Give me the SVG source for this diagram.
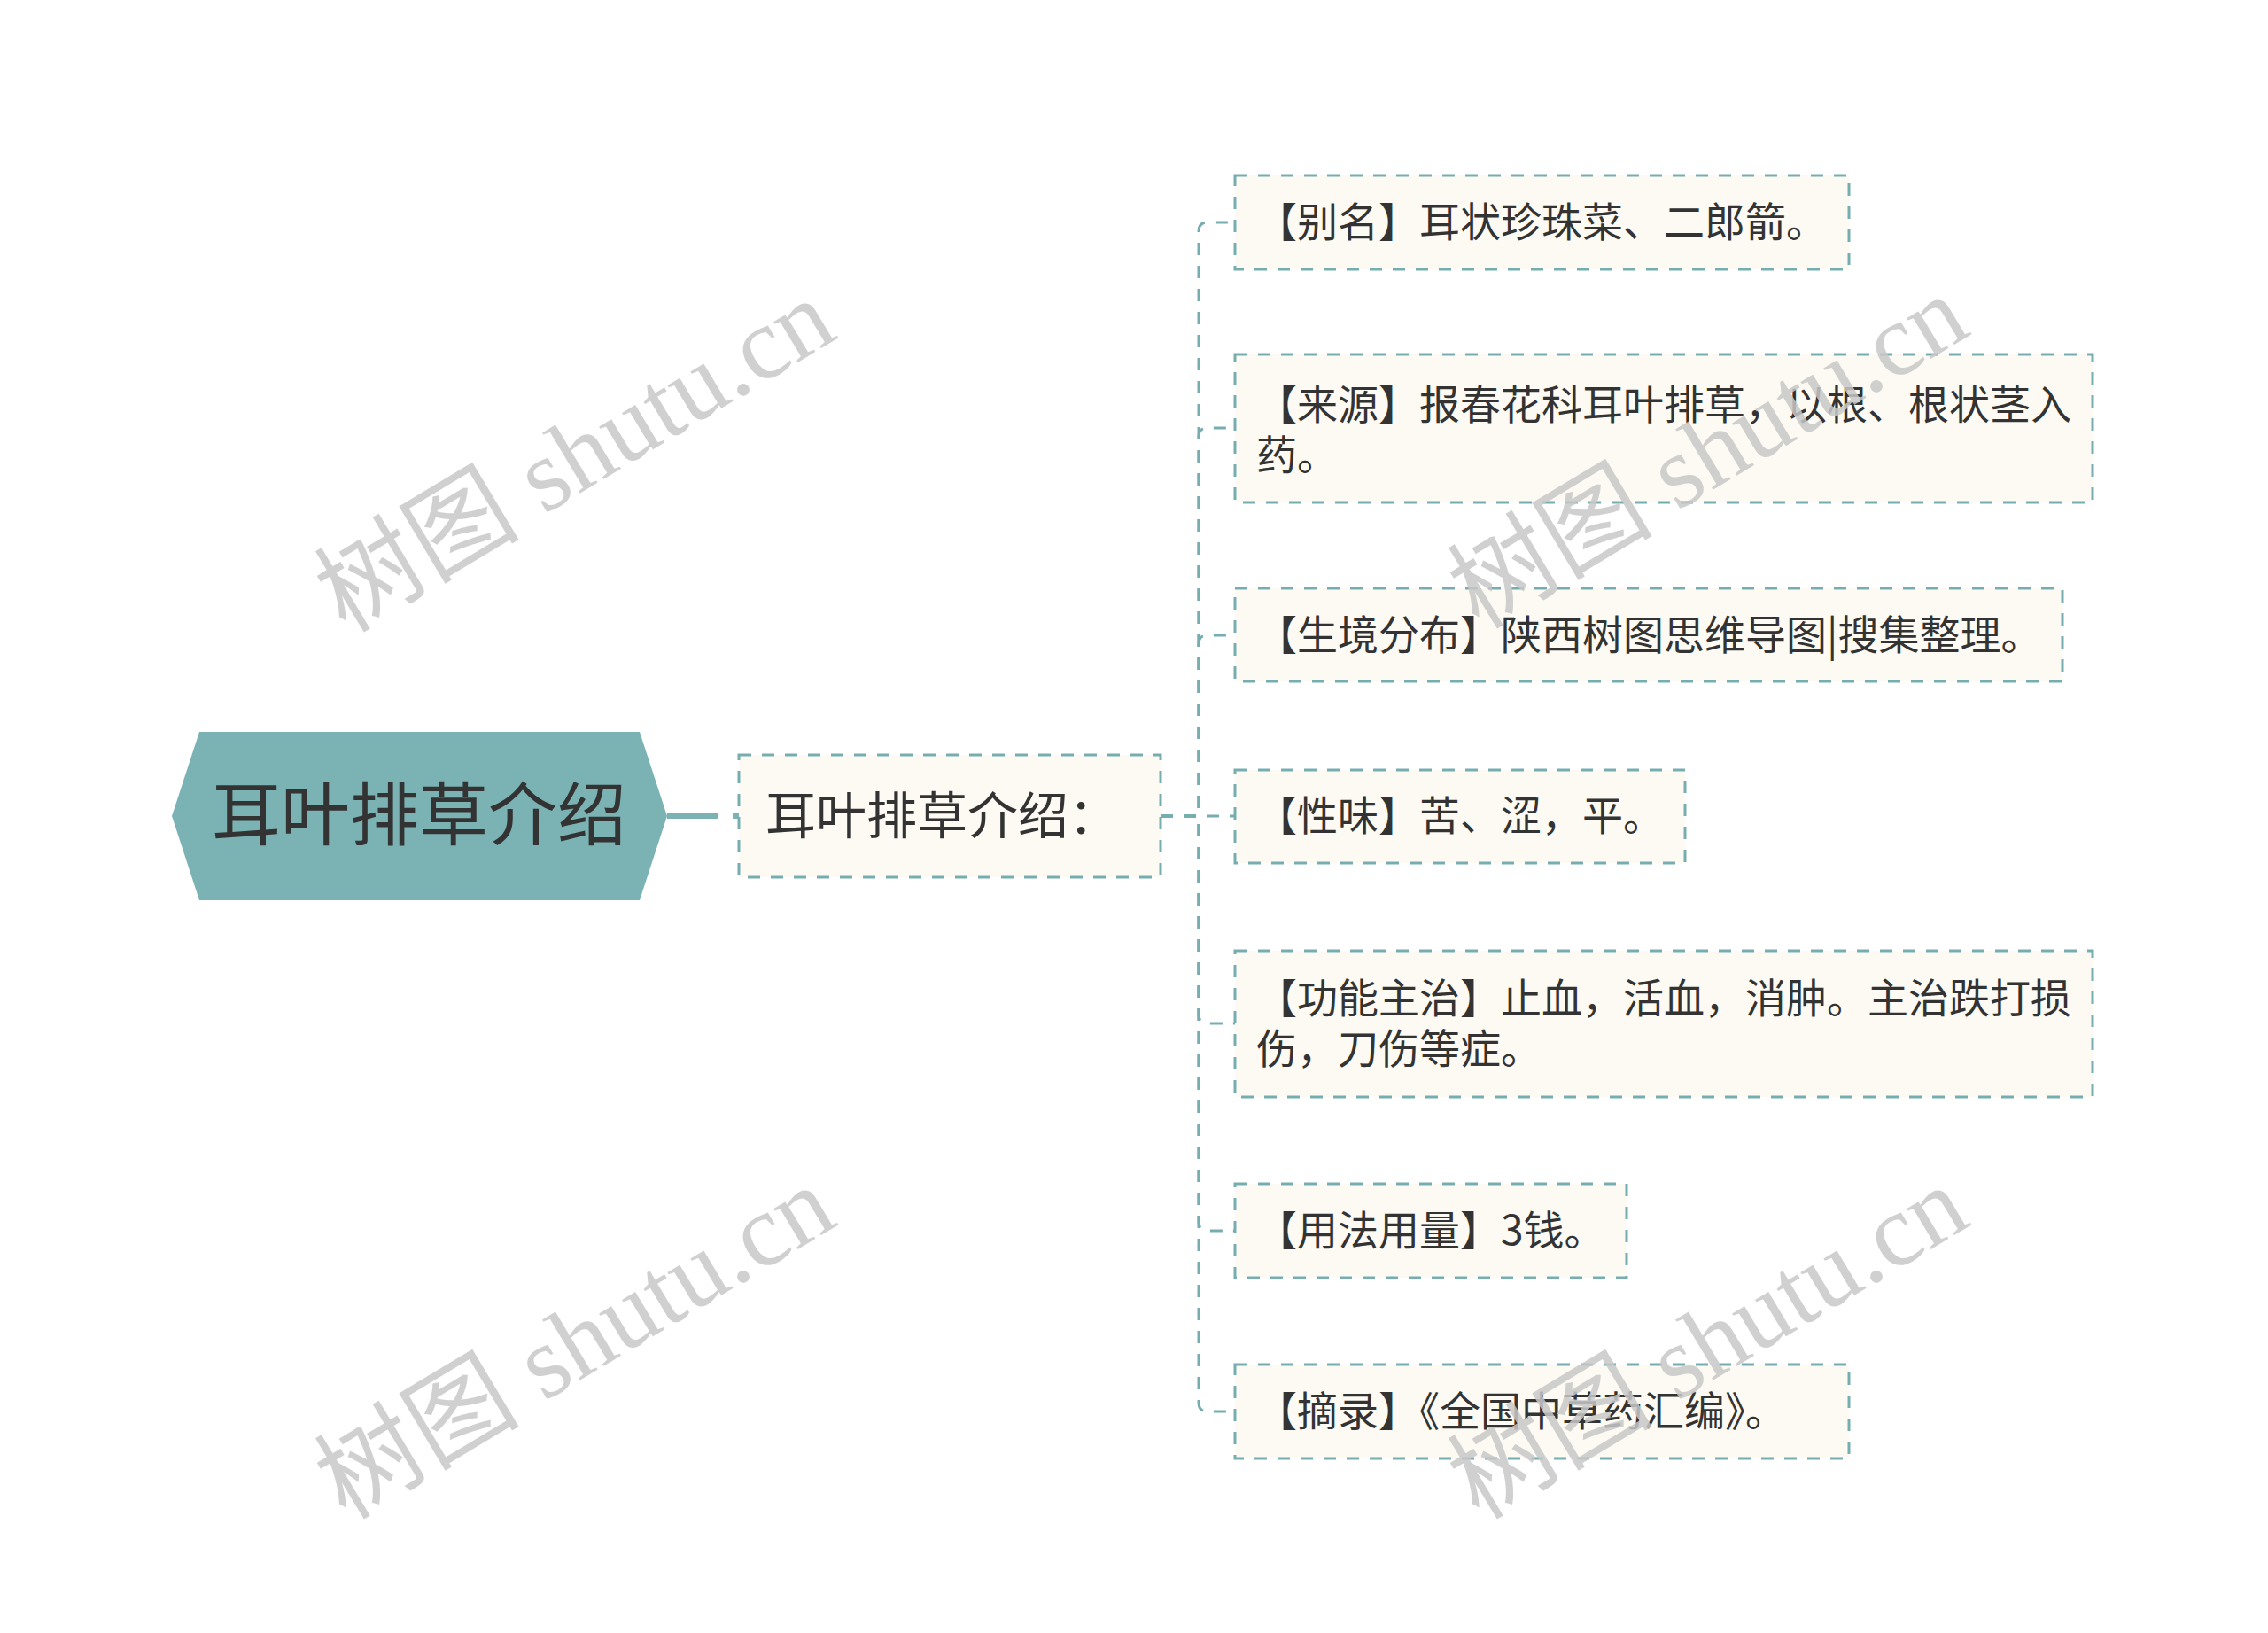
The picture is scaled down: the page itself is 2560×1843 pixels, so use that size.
<svg xmlns="http://www.w3.org/2000/svg" width="2560" height="1843" viewBox="0 0 2560 1843">
<style>
.box{fill:#fcfaf2;stroke:#76adb0;stroke-width:3;stroke-dasharray:14 12;}
.t{font-family:"Noto Sans CJK SC","Noto Sans",sans-serif;fill:#333333;}
.c{font-size:46px;}
.conn{fill:none;stroke:#76adb0;stroke-width:3;stroke-dasharray:14 12;}
.wm{font-family:"Liberation Serif","Noto Sans CJK SC",serif;font-size:116px;fill:#c8c8c8;opacity:0.85;}
</style>
<rect width="2560" height="1843" fill="#ffffff"/>
<g id="connectors">
<line x1="753" y1="921" x2="834" y2="921" stroke="#7bb3b5" stroke-width="6" stroke-dasharray="57 17"/>
<path class="conn" d="M1310,921 H1353 V261 Q1353,251 1363,251 H1394"/>
<path class="conn" d="M1310,921 H1353 V493 Q1353,483 1363,483 H1394"/>
<path class="conn" d="M1310,921 H1353 V727 Q1353,717 1363,717 H1394"/>
<path class="conn" d="M1310,921 H1394"/>
<path class="conn" d="M1310,921 H1353 V1145 Q1353,1155 1363,1155 H1394"/>
<path class="conn" d="M1310,921 H1353 V1379 Q1353,1389 1363,1389 H1394"/>
<path class="conn" d="M1310,921 H1353 V1583 Q1353,1593 1363,1593 H1394"/>
</g>
<g id="root">
<polygon points="194,921 225,826 722,826 753,921 722,1016 225,1016" fill="#7bb3b5"/>
<text class="t" x="473" y="948" font-size="78" text-anchor="middle">耳叶排草介绍</text>
</g>
<g id="main">
<rect class="box" x="834" y="852" width="476" height="138"/>
<text class="t" x="864" y="941" font-size="57">耳叶排草介绍：</text>
</g>
<g id="n1">
<rect class="box" x="1394" y="198" width="693" height="106"/>
<text class="t c" x="1418" y="267">【别名】耳状珍珠菜、二郎箭。</text>
</g>
<g id="n2">
<rect class="box" x="1394" y="400" width="968" height="167"/>
<text class="t c" x="1418" y="473">【来源】报春花科耳叶排草，以根、根状茎入</text>
<text class="t c" x="1418" y="530">药。</text>
</g>
<g id="n3">
<rect class="box" x="1394" y="664" width="934" height="105"/>
<text class="t c" x="1418" y="733">【生境分布】陕西树图思维导图|搜集整理。</text>
</g>
<g id="n4">
<rect class="box" x="1394" y="869" width="508" height="105"/>
<text class="t c" x="1418" y="937">【性味】苦、涩，平。</text>
</g>
<g id="n5">
<rect class="box" x="1394" y="1073" width="968" height="165"/>
<text class="t c" x="1418" y="1143">【功能主治】止血，活血，消肿。主治跌打损</text>
<text class="t c" x="1418" y="1200">伤，刀伤等症。</text>
</g>
<g id="n6">
<rect class="box" x="1394" y="1336" width="442" height="106"/>
<text class="t c" x="1418" y="1405">【用法用量】3钱。</text>
</g>
<g id="n7">
<rect class="box" x="1394" y="1540" width="693" height="106"/>
<text class="t c" x="1418" y="1609">【摘录】《全国中草药汇编》。</text>
</g>
<g id="watermarks">
<text class="wm" text-anchor="middle" transform="translate(669,548) rotate(-31)">树图 shutu.cn</text>
<text class="wm" text-anchor="middle" transform="translate(1948,544) rotate(-31)">树图 shutu.cn</text>
<text class="wm" text-anchor="middle" transform="translate(669,1549) rotate(-31)">树图 shutu.cn</text>
<text class="wm" text-anchor="middle" transform="translate(1948,1549) rotate(-31)">树图 shutu.cn</text>
</g>
</svg>
